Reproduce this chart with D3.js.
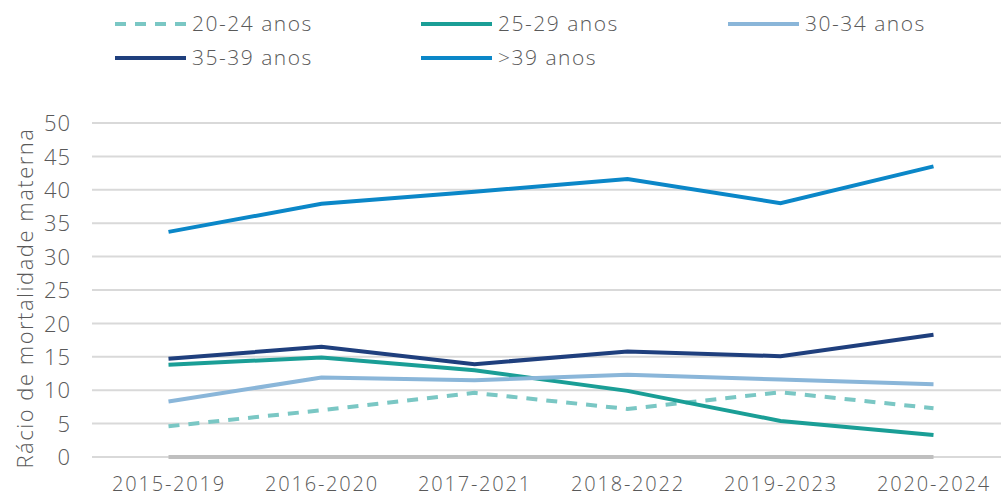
<!DOCTYPE html>
<html>
<head>
<meta charset="utf-8">
<script src="https://cdn.jsdelivr.net/npm/d3@7"></script>
<style>
  body { margin: 0; background: #fff; }
  svg { display: block; font-family: "Open Sans", Lato, sans-serif; font-weight: 300; }
  .tick text { fill: #595959; font-family: "Open Sans", Lato, sans-serif; font-weight: 300; }
  .x-axis .tick text { font-size: 20px; letter-spacing: 1.8px; }
  .y-axis .tick text { font-size: 22px; letter-spacing: 1px; }
</style>
</head>
<body>
<svg id="chart"></svg>
<script>
const periods = ["2015-2019", "2016-2020", "2017-2021", "2018-2022", "2019-2023", "2020-2024"];
const yTicks = [0, 5, 10, 15, 20, 25, 30, 35, 40, 45, 50];

const under20 = [0, 0, 0, 0, 0, 0];
const age20_24 = [4.6, 7.0, 9.6, 7.2, 9.7, 7.3];
const age25_29 = [13.8, 14.9, 13.0, 9.9, 5.4, 3.3];
const age30_34 = [8.3, 11.9, 11.5, 12.3, 11.6, 10.9];
const age35_39 = [14.7, 16.5, 13.9, 15.8, 15.1, 18.3];
const over39 = [33.7, 37.9, 39.7, 41.6, 38.0, 43.5];

const series = [
  {name: null, values: under20, color: "#bfbfbf", dash: null},
  {name: "20-24 anos", values: age20_24, color: "#7ac7c4", dash: "11,9"},
  {name: "25-29 anos", values: age25_29, color: "#1a9e96", dash: null},
  {name: "30-34 anos", values: age30_34, color: "#8ab6d9", dash: null},
  {name: "35-39 anos", values: age35_39, color: "#1f3f7d", dash: null},
  {name: ">39 anos", values: over39, color: "#0b87c8", dash: null}
];

const W = 1001, H = 498;
const margin = {top: 123, right: -9, bottom: 41, left: 92};
const width = W - margin.left - margin.right;
const height = H - margin.top - margin.bottom;

const svg = d3.select("#chart").attr("width", W).attr("height", H);
const g = svg.append("g").attr("transform", "translate(" + margin.left + "," + margin.top + ")");

const x = d3.scalePoint().domain(periods).range([0, width]).padding(0.5);
const y = d3.scaleLinear().domain([0, 50]).range([height, 0]);

// grid
g.append("g")
  .selectAll("line")
  .data(yTicks)
  .join("line")
  .attr("x1", 0).attr("x2", width)
  .attr("y1", d => y(d)).attr("y2", d => y(d))
  .attr("stroke", "#d9d9d9").attr("stroke-width", 2);

const yAxis = g.append("g")
  .attr("class", "y-axis")
  .call(d3.axisLeft(y).tickValues(yTicks).tickSize(0).tickPadding(21));
yAxis.select(".domain").remove();
yAxis.selectAll("text").attr("dy", "0.35em");

const xAxis = g.append("g")
  .attr("class", "x-axis")
  .attr("transform", "translate(0," + height + ")")
  .call(d3.axisBottom(x).tickSize(0).tickPadding(20));
xAxis.select(".domain").remove();

svg.append("text")
  .attr("transform", "translate(33," + (margin.top + height / 2 + 8) + ") rotate(-90)")
  .attr("text-anchor", "middle")
  .attr("fill", "#595959")
  .attr("font-size", 22)
  .attr("letter-spacing", 1.5)
  .text("Rácio de mortalidade materna");

const line = d3.line()
  .x((d, i) => x(periods[i]))
  .y(d => y(d));

g.selectAll("path.series")
  .data(series)
  .join("path")
  .attr("class", "series")
  .attr("fill", "none")
  .attr("stroke", d => d.color)
  .attr("stroke-width", 4)
  .attr("stroke-dasharray", d => d.dash)
  .attr("d", d => line(d.values));

// legend
const legendItems = series.filter(s => s.name);
const legendPos = [[115, 24], [421, 24], [728, 24], [115, 58], [421, 58]];
const lg = svg.append("g");
legendItems.forEach((s, i) => {
  const [lx, ly] = legendPos[i];
  lg.append("line")
    .attr("x1", lx).attr("x2", lx + 71)
    .attr("y1", ly).attr("y2", ly)
    .attr("stroke", s.color).attr("stroke-width", 4)
    .attr("stroke-dasharray", s.dash ? "11,9" : null);
  lg.append("text")
    .attr("x", lx + 77).attr("y", ly)
    .attr("dy", "0.35em")
    .attr("fill", "#595959")
    .attr("font-size", 21)
    .attr("letter-spacing", 1.5)
    .text(s.name);
});
</script>
</body>
</html>
